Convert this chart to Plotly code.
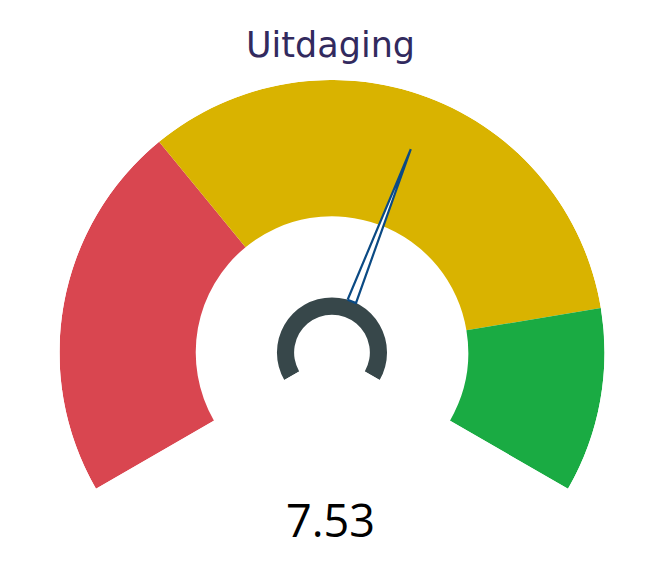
import plotly.graph_objects as go

# gauge data
title = "Uitdaging"
value = 7.53
gauge_min = 0
gauge_max = 12.8
band_edges = [0, 4.3, 10.7, 12.8]
band_colors = ["#d94650", "#d9b300", "#1aab43"]

SPAN = 240  # degrees covered by the dial


def to_deg(v):
    return (v - gauge_min) / (gauge_max - gauge_min) * SPAN


fig = go.Figure()

# coloured bands
for lo, hi, col in zip(band_edges[:-1], band_edges[1:], band_colors):
    fig.add_trace(go.Barpolar(
        theta=[(to_deg(lo) + to_deg(hi)) / 2], width=[to_deg(hi) - to_deg(lo)],
        r=[0.5], base=[0.5],
        marker=dict(color=col, line=dict(width=0)),
        hoverinfo="skip", showlegend=False,
    ))

# needle: thin outlined triangle
hub_in, hub_out = 0.139, 0.202
tip = 0.80
half = 4.7
a = to_deg(value)
fig.add_trace(go.Scatterpolar(
    r=[hub_out, tip, hub_out, hub_out],
    theta=[a - half, a, a + half, a - half],
    mode="lines", fill="toself", fillcolor="white",
    line=dict(color="#0b4a84", width=2.2),
    hoverinfo="skip", showlegend=False,
))

# hub arc
fig.add_trace(go.Barpolar(
    theta=[SPAN / 2], width=[SPAN], r=[hub_out - hub_in], base=[hub_in],
    marker=dict(color="#37474a", line=dict(width=0)),
    hoverinfo="skip", showlegend=False,
))

fig.update_layout(
    width=645, height=566,
    margin=dict(l=0, r=0, t=0, b=0),
    paper_bgcolor="white",
    polar=dict(
        domain=dict(x=[0.0798, 0.9248], y=[0.1506, 0.8728]),
        sector=[-30, 210],
        bgcolor="white",
        radialaxis=dict(range=[0, 1], visible=False),
        angularaxis=dict(rotation=210, direction="clockwise", visible=False),
    ),
    annotations=[
        dict(text=title, x=0.5, y=0.935, xref="paper", yref="paper",
             xanchor="center", yanchor="middle", showarrow=False,
             font=dict(family="DejaVu Sans", size=35, color="#322a5e")),
        dict(text=f"{value:.2f}", x=0.5, y=0.096, xref="paper", yref="paper",
             xanchor="center", yanchor="middle", showarrow=False,
             font=dict(family="Open Sans", size=45, color="black")),
    ],
)

fig.write_html("out.html")
